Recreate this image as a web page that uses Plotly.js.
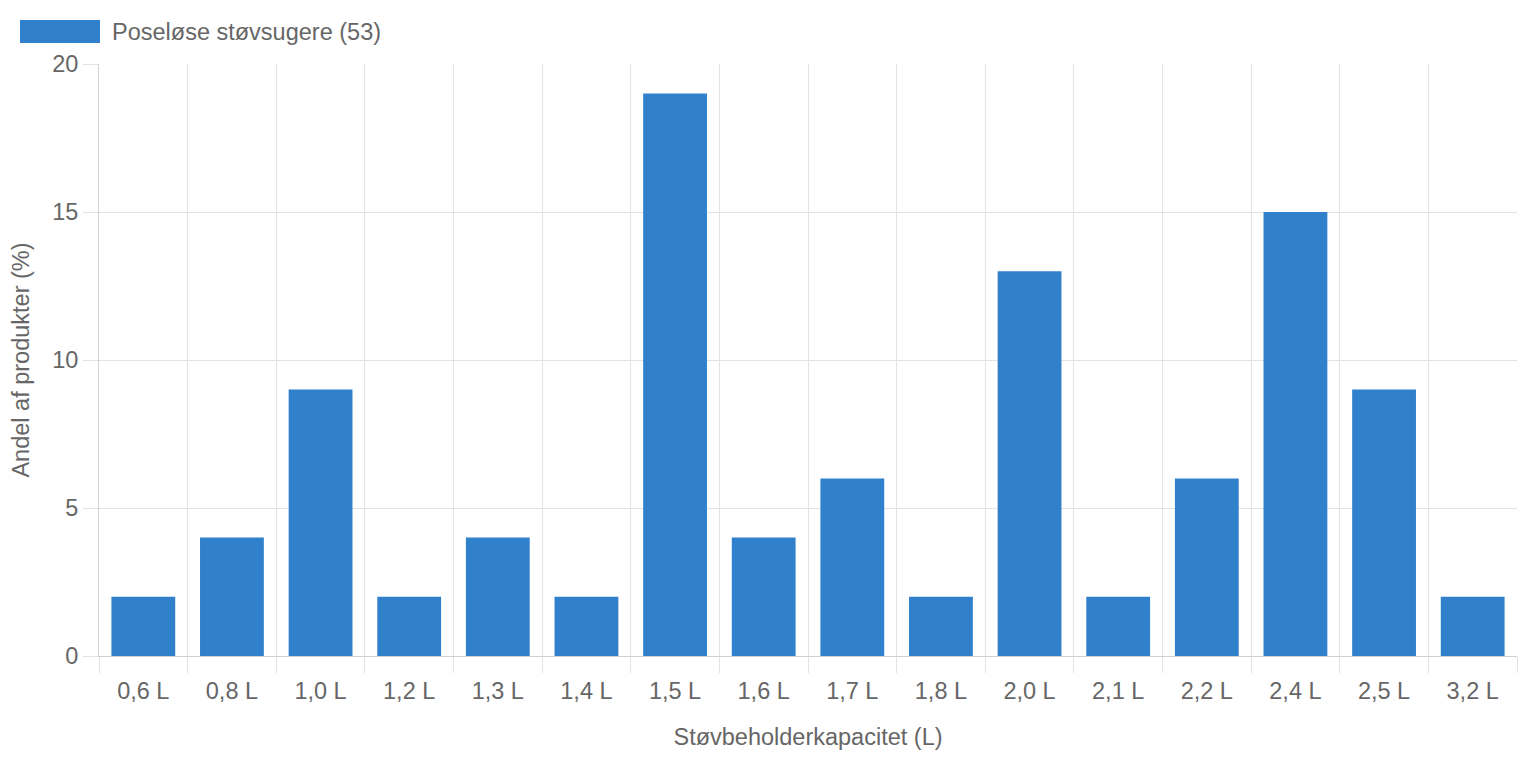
<!DOCTYPE html>
<html>
<head>
<meta charset="utf-8">
<script src="https://cdn.plot.ly/plotly-3.0.1.min.js"></script>
<style>
html,body{margin:0;padding:0;background:#fff;}
#chart{width:1518px;height:758px;}
</style>
</head>
<body>
<div id="chart"></div>
<script>
const categories = ["0,6 L","0,8 L","1,0 L","1,2 L","1,3 L","1,4 L","1,5 L","1,6 L","1,7 L","1,8 L","2,0 L","2,1 L","2,2 L","2,4 L","2,5 L","3,2 L"];
const values = [2,4,9,2,4,2,19,4,6,2,13,2,6,15,9,2];
const seriesName = "Poseløse støvsugere (53)";
const yTicks = [0,5,10,15,20];

const barColor = "rgb(48,128,204)";
const textColor = "#666666";
const gridColor = "#e3e3e3";
const axisColor = "#d0d0d0";
const fontFamily = "Liberation Sans, Arial, Helvetica, sans-serif";
const fs = 23.5;

const trace = {
  type: "bar",
  x: categories,
  y: values,
  name: seriesName,
  marker: {color: barColor},
  showlegend: false,
  hoverinfo: "x+y"
};

const layout = {
  width: 1518,
  height: 758,
  margin: {l: 99, r: 1, t: 64, b: 102},
  paper_bgcolor: "#fff",
  plot_bgcolor: "#fff",
  font: {family: fontFamily, size: fs, color: textColor},
  bargap: 0.28,
  showlegend: false,
  xaxis: {
    type: "category",
    tickson: "boundaries",
    ticks: "outside",
    ticklen: 16,
    tickcolor: gridColor,
    tickwidth: 1,
    ticklabelstandoff: 14,
    showgrid: true,
    gridcolor: gridColor,
    gridwidth: 1,
    showline: true,
    linecolor: axisColor,
    linewidth: 1,
    tickfont: {size: fs, color: textColor},
    title: {text: "Støvbeholderkapacitet (L)", font: {size: fs, color: textColor}, standoff: 25},
    fixedrange: true
  },
  yaxis: {
    range: [0, 20],
    tickvals: yTicks,
    ticktext: yTicks.map(String),
    ticks: "outside",
    ticklen: 15,
    tickcolor: gridColor,
    showgrid: true,
    gridcolor: gridColor,
    gridwidth: 1,
    zeroline: true,
    zerolinecolor: axisColor,
    zerolinewidth: 1,
    showline: true,
    linecolor: axisColor,
    linewidth: 1,
    tickfont: {size: fs, color: textColor},
    title: {text: "Andel af produkter (%)", font: {size: fs, color: textColor}, standoff: 15},
    fixedrange: true
  },
  shapes: [{
    type: "rect", xref: "paper", yref: "paper",
    x0: -79/1418, x1: 1/1418,
    y0: 1 + (64-43)/592, y1: 1 + (64-20)/592,
    fillcolor: barColor, line: {width: 0}
  }],
  annotations: [{
    xref: "paper", yref: "paper",
    x: 11/1418, y: 1 + (64-32)/592,
    xanchor: "left", yanchor: "middle",
    text: seriesName, showarrow: false,
    font: {size: fs, color: textColor, family: fontFamily}
  }]
};

Plotly.newPlot("chart", [trace], layout, {displayModeBar: false, staticPlot: true});
</script>
</body>
</html>
